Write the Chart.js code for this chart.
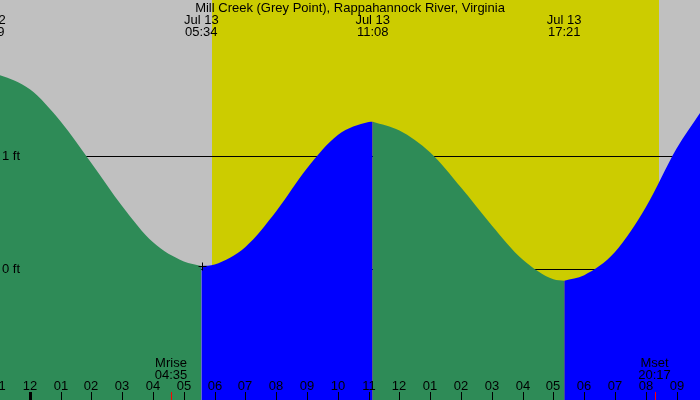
<!DOCTYPE html>
<html>
<head>
<meta charset="utf-8">
<script src="https://cdn.jsdelivr.net/npm/chart.js@4/dist/chart.umd.min.js"></script>
<style>
html,body{margin:0;padding:0;background:#c0c0c0;}
#c{display:block;}
</style>
</head>
<body>
<canvas id="c" width="700" height="400"></canvas>
<script>
// ---- data (hours relative to midnight Jul 13, heights in feet) ----
const titleText = 'Mill Creek (Grey Point), Rappahannock River, Virginia';
const tideHours = [-1.37, -0.97, 0, 1, 2, 3, 4, 5, 5.567,
  6, 7, 8, 9, 10, 11, 11.133,
  12, 13, 14, 15, 16, 17, 17.35,
  18, 19, 20, 21, 21.76];
const tideFeet = [1.74, 1.72, 1.595, 1.31, 0.94, 0.56, 0.24, 0.07, 0.031,
  0.045, 0.20, 0.515, 0.895, 1.19, 1.305, 1.308,
  1.23, 1.035, 0.725, 0.39, 0.088, -0.087, -0.099,
  -0.05, 0.155, 0.55, 1.07, 1.385];
const extremeHours = [-1.35, 5.567, 11.133, 17.35];
const extremeDates = ['Jul 12', 'Jul 13', 'Jul 13', 'Jul 13'];
const extremeTimes = ['22:39', '05:34', '11:08', '17:21'];
const sunriseHour = 5.92, sunsetHour = 20.43;
const moonHours = [4.583, 20.283];
const moonNames = ['Mrise', 'Mset'];
const moonTimes = ['04:35', '20:17'];
const levelLines = [0, 1];
const levelLabels = ['0 ft', '1 ft'];
const hourTicks = [-1,0,1,2,3,4,5,6,7,8,9,10,11,12,13,14,15,16,17,18,19,20,21];
const hourLabels = ['11','12','01','02','03','04','05','06','07','08','09','10','11','12','01','02','03','04','05','06','07','08','09'];
const markerPoint = [5.58, 0.03];

const GREEN = '#2e8b57', BLUE = '#0000ff', YELLOW = '#cccc00', GRAY = '#c0c0c0';
const FONT = '13px "Liberation Sans", Arial, sans-serif';

// split into monotone segments (falling = green, rising = blue)
const datasets = [];
let start = 0;
for (let i = 1; i < tideHours.length; i++) {
  const dirPrev = Math.sign(tideFeet[i] - tideFeet[i-1]);
  const dirNext = i + 1 < tideHours.length ? Math.sign(tideFeet[i+1] - tideFeet[i]) : dirPrev;
  if (dirNext !== dirPrev || i === tideHours.length - 1) {
    const pts = [];
    for (let k = start; k <= i; k++) pts.push({x: tideHours[k], y: tideFeet[k]});
    const col = dirPrev < 0 ? GREEN : BLUE;
    datasets.push({data: pts, fill: 'start', backgroundColor: col, borderColor: 'rgba(0,0,0,0)',
      borderWidth: 0, pointRadius: 0, cubicInterpolationMode: 'monotone'});
    start = i;
  }
}

const tidePlugin = {
  id: 'tide',
  beforeDraw(chart) {
    const ctx = chart.ctx;
    ctx.save();
    ctx.fillStyle = GRAY;
    ctx.fillRect(0, 0, chart.width, chart.height);
    ctx.restore();
  },
  beforeDatasetsDraw(chart) {
    const ctx = chart.ctx, xs = chart.scales.x, ys = chart.scales.y;
    ctx.save();
    const x0 = Math.round(xs.getPixelForValue(sunriseHour));
    const x1 = Math.round(xs.getPixelForValue(sunsetHour));
    ctx.fillStyle = YELLOW;
    ctx.fillRect(x0, 0, x1 - x0, chart.height);
    ctx.strokeStyle = '#000';
    ctx.lineWidth = 1;
    levelLines.forEach(v => {
      const y = Math.floor(ys.getPixelForValue(v)) + 0.5;
      ctx.beginPath(); ctx.moveTo(0, y); ctx.lineTo(chart.width, y); ctx.stroke();
    });
    ctx.restore();
  },
  afterDatasetsDraw(chart) {
    const ctx = chart.ctx, xs = chart.scales.x, ys = chart.scales.y;
    ctx.save();
    ctx.fillStyle = '#000';
    ctx.font = FONT;
    ctx.textBaseline = 'alphabetic';
    ctx.textAlign = 'center';
    ctx.fillText(titleText, 350, 12);
    extremeHours.forEach((h, i) => {
      const x = xs.getPixelForValue(h);
      ctx.fillText(extremeDates[i], x, 24);
      ctx.fillText(extremeTimes[i], x, 36);
    });
    // hour ticks
    hourTicks.forEach((h, i) => {
      const x = Math.round(xs.getPixelForValue(h));
      ctx.fillText(hourLabels[i], x, 390);
      ctx.fillRect(h === 0 ? x - 1 : x, 392, h === 0 ? 3 : 1, 8);
    });
    // moon
    moonHours.forEach((h, i) => {
      const x = xs.getPixelForValue(h);
      ctx.fillStyle = '#000';
      ctx.fillText(moonNames[i], x, 367);
      ctx.fillText(moonTimes[i], x, 378.5);
      ctx.fillStyle = '#ff0000';
      ctx.fillRect(Math.round(x), 392, 1, 8);
    });
    ctx.fillStyle = '#000';
    ctx.textAlign = 'left';
    levelLines.forEach((v, i) => {
      const y = ys.getPixelForValue(v);
      ctx.fillText(levelLabels[i], 2, y + 4);
    });
    // marker cross
    const mx = Math.round(xs.getPixelForValue(markerPoint[0])) + 0.5;
    const my = Math.round(ys.getPixelForValue(markerPoint[1])) + 0.5;
    ctx.strokeStyle = '#000'; ctx.lineWidth = 1;
    ctx.beginPath();
    ctx.moveTo(mx - 4, my); ctx.lineTo(mx + 4, my);
    ctx.moveTo(mx, my - 4); ctx.lineTo(mx, my + 4);
    ctx.stroke();
    ctx.restore();
  }
};

new Chart(document.getElementById('c'), {
  type: 'line',
  data: {datasets},
  options: {
    responsive: false,
    animation: false,
    devicePixelRatio: 1,
    layout: {padding: 0},
    plugins: {legend: {display: false}, tooltip: {enabled: false}},
    scales: {
      x: {type: 'linear', min: -0.97, max: 21.76, display: false},
      y: {type: 'linear', min: -1.155, max: 2.385, display: false}
    }
  },
  plugins: [tidePlugin]
});
</script>
</body>
</html>
